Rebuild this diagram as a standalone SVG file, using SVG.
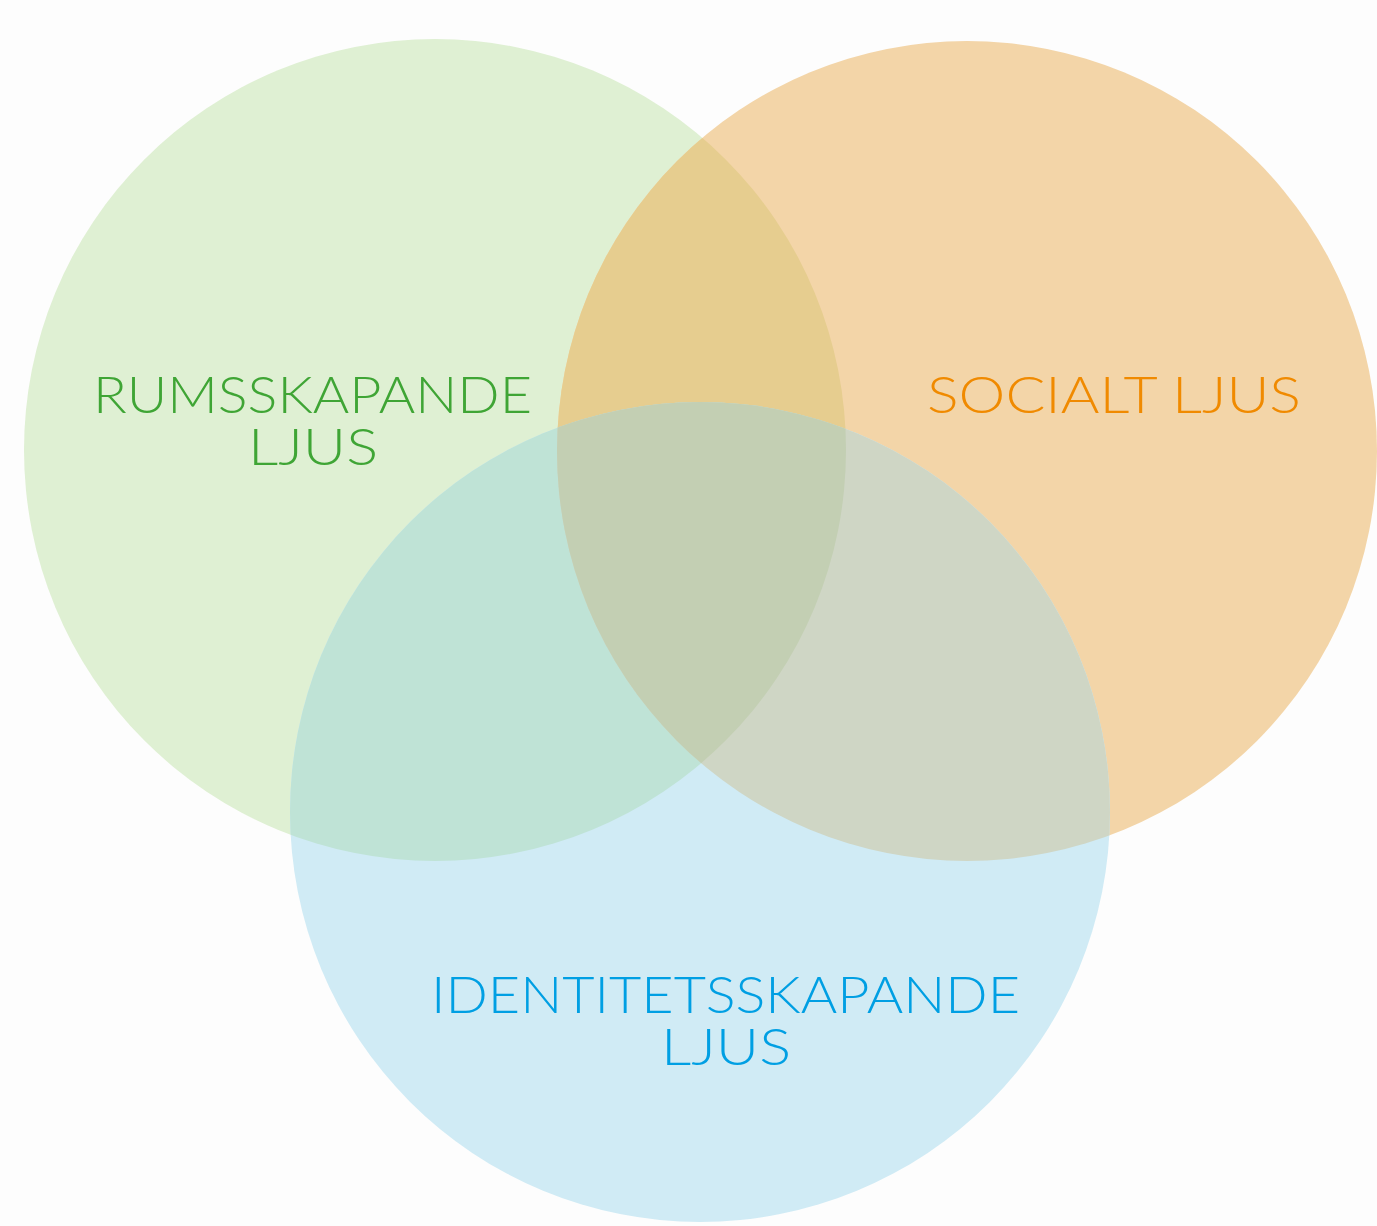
<svg xmlns="http://www.w3.org/2000/svg" width="1377" height="1226" viewBox="0 0 1377 1226">
<style>
.lbl{font-family:Lato,"Open Sans","Liberation Sans",sans-serif;font-weight:300;font-size:51px;}
</style>
<defs>
<clipPath id="cg"><circle cx="435" cy="450" r="411"/></clipPath>
<clipPath id="co"><circle cx="967" cy="451" r="410"/></clipPath>
<clipPath id="cb"><circle cx="700" cy="812" r="410"/></clipPath>
</defs>
<rect width="1377" height="1226" fill="#fdfdfd"/>
<g id="circles">
<g id="green"><circle cx="435" cy="450" r="411" fill="#dff0d3"/></g>
<g id="orange"><circle cx="967" cy="451" r="410" fill="#f3d5a8"/></g>
<g id="blue"><circle cx="700" cy="812" r="410" fill="#d0ebf5"/></g>
<circle cx="967" cy="451" r="410" fill="#e6cd8f" clip-path="url(#cg)"/>
<circle cx="700" cy="812" r="410" fill="#bfe3d6" clip-path="url(#cg)"/>
<circle cx="700" cy="812" r="410" fill="#cfd6c5" clip-path="url(#co)"/>
<g clip-path="url(#co)"><circle cx="700" cy="812" r="410" fill="#c3cfb3" clip-path="url(#cg)"/></g>
</g>
<g id="labels">
<g id="rumsskapande" fill="#3fa535">
<text class="lbl" x="93" y="413" textLength="439" lengthAdjust="spacingAndGlyphs">RUMSSKAPANDE</text>
<text class="lbl" x="248" y="465" textLength="130" lengthAdjust="spacingAndGlyphs">LJUS</text>
</g>
<g id="socialt" fill="#f08a00">
<text class="lbl" x="927" y="413" textLength="374" lengthAdjust="spacingAndGlyphs">SOCIALT LJUS</text>
</g>
<g id="identitet" fill="#009fe3">
<text class="lbl" x="431" y="1013" textLength="589" lengthAdjust="spacingAndGlyphs">IDENTITETSSKAPANDE</text>
<text class="lbl" x="661" y="1065" textLength="130" lengthAdjust="spacingAndGlyphs">LJUS</text>
</g>
</g>
</svg>
